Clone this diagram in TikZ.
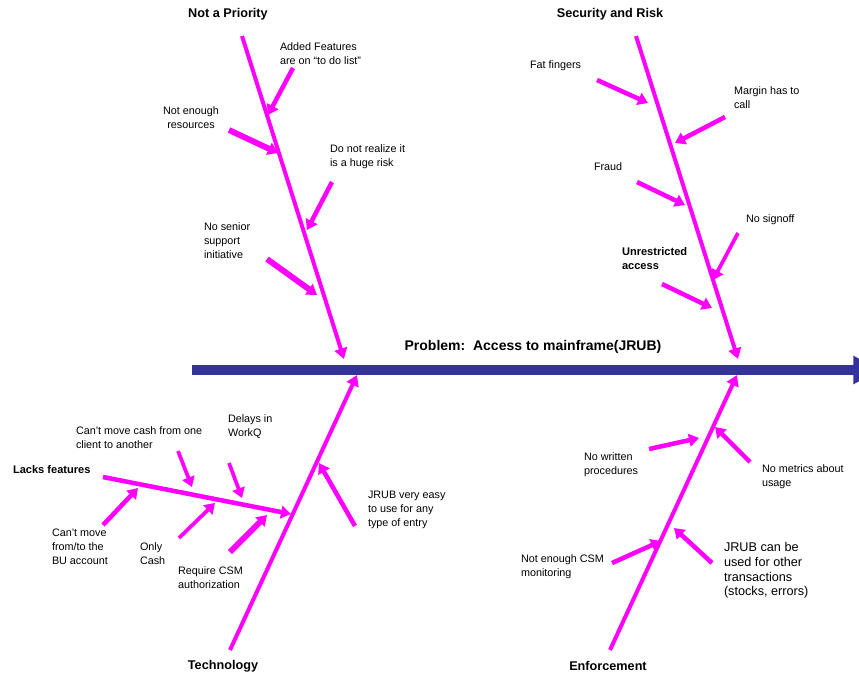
\documentclass[tikz,border=0pt]{standalone}
\usepackage{fontspec}
\setmainfont{Liberation Sans}
\usetikzlibrary{arrows.meta}
\definecolor{bonemag}{HTML}{FF00FF}
\definecolor{spineblue}{HTML}{333399}

\begin{document}
\begin{tikzpicture}[x=0.75pt,y=-0.75pt,
  every node/.style={inner sep=0pt, outer sep=0pt},
  note/.style={font=\fontsize{8.1}{10.5}\selectfont, align=left, anchor=north west, yshift=-1.5pt},
  notec/.style={note, align=center, anchor=north},
  notebold/.style={note, font=\bfseries\fontsize{8.3}{10.5}\selectfont},
  notebig/.style={note, font=\fontsize{9.5}{11.2}\selectfont},
  headlabel/.style={font=\bfseries\fontsize{9.5}{11.5}\selectfont},
  problemlabel/.style={font=\bfseries\fontsize{10.5}{12.5}\selectfont},
  bonearrow/.style={draw=bonemag, line width=3pt, -{Triangle[length=8pt,width=9.5pt]}},
  causearrow/.style={draw=bonemag, line width=3.4pt, -{Triangle[length=7.5pt,width=9.5pt]}},
  thickcause/.style={causearrow, line width=4.4pt},
  thincause/.style={causearrow, line width=2.8pt},
  spinearrow/.style={draw=spineblue, line width=7pt, -{Triangle[length=20pt,width=20pt]}}
]
\useasboundingbox (0,0) rectangle (859,675);
\clip (0,0) rectangle (859,675);

% ---------- spine ----------
\coordinate (spine-tail) at (192,370);
\coordinate (spine-head) at (880,370);
\draw[spinearrow] (spine-tail) -- (spine-head);
\node[problemlabel] (problem) at (533,347) {Problem:\ \ Access to mainframe(JRUB)};

% ---------- Not a Priority ----------
\node[headlabel] (np) at (228,14) {Not a Priority};
\coordinate (np-top) at (242,36);
\coordinate (np-tip) at (344,359);
\draw[bonearrow] (np-top) -- (np-tip);

\node[note] (np1) at (280,41) {Added Features\\are on “to do list”};
\coordinate (np1-a) at (293,68); \coordinate (np1-b) at (268,115);
\draw[causearrow] (np1-a) -- (np1-b);

\node[notec] (np2) at (191,105) {Not enough\\resources};
\coordinate (np2-a) at (229,130); \coordinate (np2-b) at (278,153);
\draw[thickcause] (np2-a) -- (np2-b);

\node[note] (np3) at (330,143) {Do not realize it\\is a huge risk};
\coordinate (np3-a) at (332,182); \coordinate (np3-b) at (307,230);
\draw[causearrow] (np3-a) -- (np3-b);

\node[note] (np4) at (204,221) {No senior\\support\\initiative};
\coordinate (np4-a) at (267,259); \coordinate (np4-b) at (317,295);
\draw[thickcause] (np4-a) -- (np4-b);

% ---------- Security and Risk ----------
\node[headlabel] (sr) at (610,14) {Security and Risk};
\coordinate (sr-top) at (636,36);
\coordinate (sr-tip) at (738,359);
\draw[bonearrow] (sr-top) -- (sr-tip);

\node[note] (sr1) at (530,59) {Fat fingers};
\coordinate (sr1-a) at (597,80); \coordinate (sr1-b) at (648,103);
\draw[causearrow] (sr1-a) -- (sr1-b);

\node[note] (sr2) at (734,85) {Margin has to\\call};
\coordinate (sr2-a) at (725,117); \coordinate (sr2-b) at (675,143);
\draw[causearrow] (sr2-a) -- (sr2-b);

\node[note] (sr3) at (594,161) {Fraud};
\coordinate (sr3-a) at (637,182); \coordinate (sr3-b) at (685,205);
\draw[causearrow] (sr3-a) -- (sr3-b);

\node[note] (sr4) at (746,213) {No signoff};
\coordinate (sr4-a) at (738,233); \coordinate (sr4-b) at (713,280);
\draw[thincause] (sr4-a) -- (sr4-b);

\node[notebold] (sr5) at (622,245) {Unrestricted\\access};
\coordinate (sr5-a) at (662,284); \coordinate (sr5-b) at (712,308);
\draw[causearrow] (sr5-a) -- (sr5-b);

% ---------- Technology ----------
\node[headlabel] (tech) at (223,666) {Technology};
\coordinate (tech-foot) at (230,650);
\coordinate (tech-tip) at (357,375);
\draw[bonearrow] (tech-foot) -- (tech-tip);

\node[notebold] (lf) at (13,463) {Lacks features};
\coordinate (lf-a) at (103,477); \coordinate (lf-b) at (291,514);
\draw[causearrow] (lf-a) -- (lf-b);

\node[note] (lf1) at (76,425) {Can’t move cash from one\\client to another};
\coordinate (lf1-a) at (178,451); \coordinate (lf1-b) at (192,487);
\draw[thincause] (lf1-a) -- (lf1-b);

\node[note] (lf2) at (228,413) {Delays in\\WorkQ};
\coordinate (lf2-a) at (229,463); \coordinate (lf2-b) at (242,498);
\draw[thincause] (lf2-a) -- (lf2-b);

\node[note] (lf3) at (52,527) {Can’t move\\from/to the\\BU account};
\coordinate (lf3-a) at (103,525); \coordinate (lf3-b) at (138,488);
\draw[causearrow] (lf3-a) -- (lf3-b);

\node[note] (lf4) at (140,541) {Only\\Cash};
\coordinate (lf4-a) at (179,538); \coordinate (lf4-b) at (215,503);
\draw[thincause] (lf4-a) -- (lf4-b);

\node[note] (lf5) at (178,565) {Require CSM\\authorization};
\coordinate (lf5-a) at (230,552); \coordinate (lf5-b) at (267,515);
\draw[thickcause] (lf5-a) -- (lf5-b);

\node[note] (tc1) at (368,489) {JRUB very easy\\to use for any\\type of entry};
\coordinate (tc1-a) at (355,526); \coordinate (tc1-b) at (319,463);
\draw[causearrow] (tc1-a) -- (tc1-b);

% ---------- Enforcement ----------
\node[headlabel] (enf) at (608,666) {Enforcement};
\coordinate (enf-foot) at (610,650);
\coordinate (enf-tip) at (737,375);
\draw[bonearrow] (enf-foot) -- (enf-tip);

\node[note] (en1) at (584,451) {No written\\procedures};
\coordinate (en1-a) at (649,449); \coordinate (en1-b) at (699,438);
\draw[causearrow] (en1-a) -- (en1-b);

\node[note] (en2) at (762,463) {No metrics about\\usage};
\coordinate (en2-a) at (750,462); \coordinate (en2-b) at (715,427);
\draw[causearrow] (en2-a) -- (en2-b);

\node[note] (en3) at (521,553) {Not enough CSM\\monitoring};
\coordinate (en3-a) at (612,563); \coordinate (en3-b) at (661,541);
\draw[causearrow] (en3-a) -- (en3-b);

\node[notebig] (en4) at (724,540) {JRUB can be\\used for other\\transactions\\(stocks, errors)};
\coordinate (en4-a) at (712,563); \coordinate (en4-b) at (674,528);
\draw[causearrow] (en4-a) -- (en4-b);
\end{tikzpicture}
\end{document}
